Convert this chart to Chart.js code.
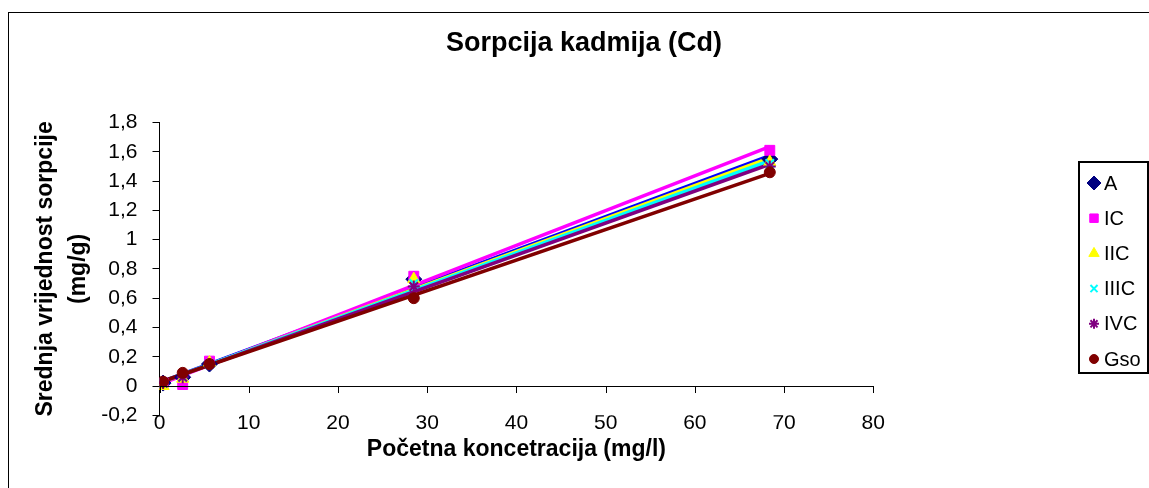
<!DOCTYPE html>
<html>
<head>
<meta charset="utf-8">
<script src="https://cdn.jsdelivr.net/npm/chart.js@4/dist/chart.umd.min.js"></script>
<style>
html, body { margin: 0; padding: 0; width: 1149px; height: 488px; overflow: hidden; background: #fff; }
#frame { position: absolute; left: 8px; top: 12px; width: 1170px; height: 490px; border: 1px solid #000; }
</style>
</head>
<body>
<div id="frame"><canvas id="c"></canvas></div>
<script>
// values
const seriesNames = ['A', 'IC', 'IIC', 'IIIC', 'IVC', 'Gso'];
const concentrations = [0.4, 2.6, 5.6, 28.5, 68.4];
const sorpA    = [0.02, 0.06, 0.15, 0.73, 1.55];
const sorpIC   = [0.02, 0.01, 0.17, 0.75, 1.61];
const sorpIIC  = [0.00, 0.05, 0.16, 0.73, 1.53];
const sorpIIIC = [0.02, 0.06, 0.15, 0.70, 1.52];
const sorpIVC  = [0.02, 0.06, 0.15, 0.68, 1.50];
const sorpGso  = [0.03, 0.09, 0.15, 0.60, 1.46];
const xTickValues = [0, 10, 20, 30, 40, 50, 60, 70, 80];
const yTickValues = [-0.2, 0, 0.2, 0.4, 0.6, 0.8, 1, 1.2, 1.4, 1.6, 1.8];

const allSeries = [sorpA, sorpIC, sorpIIC, sorpIIIC, sorpIVC, sorpGso];
const markerColors = ['#000080', '#FF00FF', '#FFFF00', '#00FFFF', '#800080', '#800000'];
const lineColors   = ['#0000FF', '#FF00FF', '#FFFF00', '#00FFFF', '#800080', '#800000'];
const markerStyles = ['rectRot', 'rect', 'triangle', 'crossRot', 'star', 'circle'];
const markerRadius = [8, 7, 7, 6, 6, 5.5];
const markerBorder = [1, 1, 1, 2, 2, 1];

const font = 'Liberation Sans, Arial, sans-serif';
const fmt = v => String(Math.round(v * 10) / 10).replace('.', ',');

// least squares trendline between first and last x
function trend(xs, ys) {
  const n = xs.length;
  let mx = 0, my = 0;
  for (let i = 0; i < n; i++) { mx += xs[i]; my += ys[i]; }
  mx /= n; my /= n;
  let sxy = 0, sxx = 0;
  for (let i = 0; i < n; i++) { sxy += (xs[i] - mx) * (ys[i] - my); sxx += (xs[i] - mx) * (xs[i] - mx); }
  const b = sxy / sxx, a = my - b * mx;
  return [{x: xs[0], y: a + b * xs[0]}, {x: xs[n - 1], y: a + b * xs[n - 1]}];
}

const datasets = [];
allSeries.forEach((ys, i) => {
  datasets.push({
    label: seriesNames[i],
    data: concentrations.map((x, j) => ({x: x, y: ys[j]})),
    pointStyle: markerStyles[i],
    pointRadius: markerRadius[i],
    pointBackgroundColor: markerColors[i],
    pointBorderColor: markerColors[i],
    pointBorderWidth: markerBorder[i],
    showLine: false,
    order: 10 - i
  });
  datasets.push({
    label: seriesNames[i] + ' trend',
    data: trend(concentrations, ys),
    showLine: true,
    borderColor: lineColors[i],
    borderWidth: 3.5,
    pointRadius: 0,
    order: 20 - i
  });
});

const extras = {
  id: 'extras',
  afterDraw(chart) {
    const ctx = chart.ctx;
    const xs = chart.scales.x, ys = chart.scales.y;
    const y0 = ys.getPixelForValue(0);
    ctx.save();
    // x axis crosses at y = 0
    ctx.strokeStyle = '#000';
    ctx.lineWidth = 1;
    ctx.beginPath();
    ctx.moveTo(xs.getPixelForValue(0), y0 + 0.5);
    ctx.lineTo(xs.getPixelForValue(80), y0 + 0.5);
    xTickValues.forEach(v => {
      const px = Math.round(xs.getPixelForValue(v)) + 0.5;
      ctx.moveTo(px, y0);
      ctx.lineTo(px, y0 + 7);
    });
    ctx.stroke();

    // title
    ctx.fillStyle = '#000';
    ctx.font = 'bold 27px ' + font;
    ctx.textAlign = 'center';
    ctx.textBaseline = 'middle';
    ctx.fillText('Sorpcija kadmija (Cd)', 575, 31);

    // legend
    ctx.lineWidth = 2;
    ctx.strokeRect(1070, 149, 69, 211);
    ctx.font = '20px ' + font;
    ctx.textAlign = 'left';
    seriesNames.forEach((name, i) => {
      const cy = 170 + i * 35.2;
      ctx.fillStyle = markerColors[i];
      ctx.strokeStyle = markerColors[i];
      ctx.lineWidth = markerBorder[i];
      Chart.helpers.drawPoint(ctx, {pointStyle: markerStyles[i], radius: markerRadius[i] - 1, rotation: 0, borderWidth: markerBorder[i]}, 1085, cy);
      ctx.fillStyle = '#000';
      ctx.fillText(name, 1095, cy + 1);
    });
    ctx.restore();
  }
};

new Chart(document.getElementById('c'), {
  type: 'scatter',
  data: {datasets: datasets},
  options: {
    responsive: true,
    maintainAspectRatio: false,
    animation: false,
    layout: {padding: {top: 109.5, right: 305.7, bottom: 0, left: 0}},
    plugins: {legend: {display: false}, tooltip: {enabled: false}, title: {display: false}},
    scales: {
      x: {
        type: 'linear', min: 0, max: 80,
        afterBuildTicks: s => { s.ticks = xTickValues.map(v => ({value: v})); },
        afterFit: s => { s.height = 87.7; },
        grid: {display: false, drawTicks: false},
        border: {display: false},
        ticks: {color: '#000', font: {family: font, size: 21}, padding: -5, maxRotation: 0, callback: v => fmt(v)},
        title: {display: true, text: 'Početna koncetracija (mg/l)', color: '#000', font: {family: font, size: 23, weight: 'bold'}, padding: {top: 0, bottom: 40}}
      },
      y: {
        type: 'linear', min: -0.2, max: 1.8,
        afterBuildTicks: s => { s.ticks = yTickValues.map(v => ({value: v})); },
        afterFit: s => { s.width = 150.5; },
        grid: {display: true, drawOnChartArea: false, drawTicks: true, tickLength: 7, color: '#000'},
        border: {display: true, color: '#000', width: 1},
        ticks: {color: '#000', font: {family: font, size: 21}, padding: 15, callback: v => fmt(v)},
        title: {display: true, text: ['Srednja vrijednost sorpcije', '(mg/g)'], color: '#000', font: {family: font, size: 23, weight: 'bold', lineHeight: 1.4}, padding: {top: 21, bottom: 0}}
      }
    }
  },
  plugins: [extras]
});
</script>
</body>
</html>
